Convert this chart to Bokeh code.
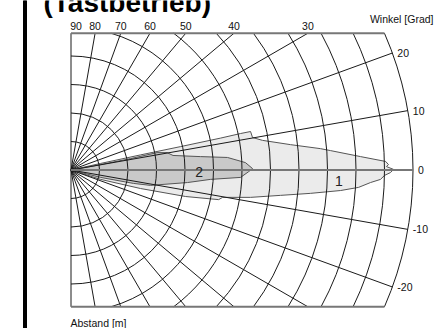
import numpy as np
from bokeh.plotting import figure
from bokeh.models import Range1d
from bokeh.embed import file_html
from bokeh.resources import INLINE
from bokeh.core.properties import value

# ---------------- data ----------------
title_text = "(Tastbetrieb)"
angle_title = "Winkel [Grad]"
dist_title = "Abstand [m]"

ring_distances = list(range(1, 13))          # m, one ring per metre
r_max = 12.0
y_max = 4.8                                   # half height of the frame (m)
radial_angles = [80, 70, 60, 50, 40, 30, 20, 10, -10, -20, -30, -40, -50, -60, -70, -80]
top_angles = [90, 80, 70, 60, 50, 40, 30]
top_labels = ["90", "80", "70", "60", "50", "40", "30"]
right_angles = [20, 10, 0, -10, -20]
right_labels = ["20", "10", "0", "-10", "-20"]

# detection zone 1 (light)
zone1_x = [0, 1.04, 2.44, 3.84, 5.25, 5.95, 6.30, 6.37, 6.72, 7.70, 8.75, 9.11, 10.16, 11.04, 11.14, 11.07, 11.32,
           11.21, 11.0, 10.86, 10.51, 10.09, 9.46, 8.40, 7.35, 6.30, 5.32, 5.18, 4.02, 2.44, 1.04]
zone1_y = [0, 0.23, 0.53, 0.82, 1.12, 1.28, 1.35, 1.14, 1.04, 0.89, 0.75, 0.68, 0.47, 0.30, 0.19, 0.12, 0.02,
           -0.09, -0.19, -0.33, -0.44, -0.61, -0.72, -0.82, -0.89, -0.96, -0.96, -1.04, -0.93, -0.65, -0.33]
# detection zone 2 (dark)
zone2_x = [0, 1.04, 2.09, 3.02, 3.37, 3.58, 4.54, 5.49, 6.12, 6.37, 6.23, 5.95, 4.89, 4.09, 2.79, 2.19, 1.04]
zone2_y = [0, 0.19, 0.40, 0.61, 0.61, 0.51, 0.47, 0.44, 0.26, 0.05, -0.06, -0.26, -0.33, -0.44, -0.54, -0.47, -0.26]
zone_labels = ["2", "1"]
zone_label_x = [4.5, 9.4]
zone_label_y = [-0.08, -0.37]

# ---------------- layout ----------------
W, H = 440, 328
PX = 28.5               # pixels per metre
OX, OY = 70.5, 169.5    # screen position of the sensor


def mx(px):
    return (px - OX) / PX


def my(py):
    return (OY - py) / PX


p = figure(width=W, height=H, output_backend="svg", toolbar_location=None,
           x_range=Range1d(mx(0), mx(W)), y_range=Range1d(my(H), my(0)),
           min_border=0, min_border_left=0, min_border_right=0,
           min_border_top=0, min_border_bottom=0)
p.axis.visible = False
p.xgrid.visible = False
p.ygrid.visible = False
p.outline_line_color = None
p.background_fill_color = "white"
p.border_fill_color = "white"

FONT = value("Liberation Sans")

# left black bar
p.quad(left=[mx(23)], right=[mx(26)], bottom=[my(H)], top=[my(0)], color="black")

# zones
p.patch(zone1_x, zone1_y, fill_color="#ebebeb", line_color="#555555", line_width=1)
p.patch(zone2_x, zone2_y, fill_color="#c9c9c9", line_color="#555555", line_width=1)

# rings (clipped to frame)
starts, ends = [], []
for r in ring_distances:
    lim = np.pi / 2 if r <= y_max else np.arcsin(y_max / r)
    starts.append(-lim)
    ends.append(lim)
p.arc(x=0, y=0, radius=ring_distances, start_angle=starts, end_angle=ends,
      line_color="#1a1a1a", line_width=1)

# radial lines
x1, y1 = [], []
for a in radial_angles:
    t = np.radians(a)
    if abs(r_max * np.sin(t)) <= y_max:
        x1.append(r_max * np.cos(t)); y1.append(r_max * np.sin(t))
    else:
        yy = np.sign(a) * y_max
        x1.append(yy / np.tan(t)); y1.append(yy)
p.segment(x0=[0] * len(x1), y0=[0] * len(y1), x1=x1, y1=y1, line_color="#1a1a1a", line_width=1)

# frame: left edge, top & bottom edges, zero line
xe = np.sqrt(r_max ** 2 - y_max ** 2)
p.segment(x0=[0], y0=[-y_max], x1=[0], y1=[y_max], line_color="#1a1a1a", line_width=1)
p.segment(x0=[0, 0, 0], y0=[y_max, -y_max, 0], x1=[xe, xe, r_max], y1=[y_max, -y_max, 0],
          line_color="#777777", line_width=2)

# angle labels on top
tx = [max(y_max / np.tan(np.radians(a)), 0.0) if a != 90 else 0.0 for a in top_angles]
txo = [5 if a == 90 else 0 for a in top_angles]
p.text(x=tx, y=[y_max] * len(tx), text=top_labels, x_offset=txo, y_offset=-7,
       text_align="center", text_baseline="middle", text_font=FONT,
       text_font_size="10.5px", text_color="#111111")

# angle labels on the right
rx = [r_max * np.cos(np.radians(a)) for a in right_angles]
ry = [r_max * np.sin(np.radians(a)) for a in right_angles]
p.text(x=rx, y=ry, text=right_labels, x_offset=5, text_align="left", text_baseline="middle",
       text_font=FONT, text_font_size="10.5px", text_color="#111111")

# zone labels
p.text(x=zone_label_x, y=zone_label_y, text=zone_labels, text_align="center", text_baseline="middle",
       text_font=FONT, text_font_size="14px", text_color="#222222")

# titles
p.text(x=[mx(43)], y=[my(2)], text=[title_text], text_align="left", text_baseline="alphabetic",
       text_font=FONT, text_font_size="28px", text_font_style="bold", text_color="black")
p.text(x=[mx(433)], y=[my(18)], text=[angle_title], text_align="right", text_baseline="alphabetic",
       text_font=FONT, text_font_size="10.5px", text_color="#111111")
p.text(x=[mx(70)], y=[my(322)], text=[dist_title], text_align="left", text_baseline="alphabetic",
       text_font=FONT, text_font_size="10.5px", text_color="#111111")

open("out.html", "w").write(file_html(p, INLINE))
